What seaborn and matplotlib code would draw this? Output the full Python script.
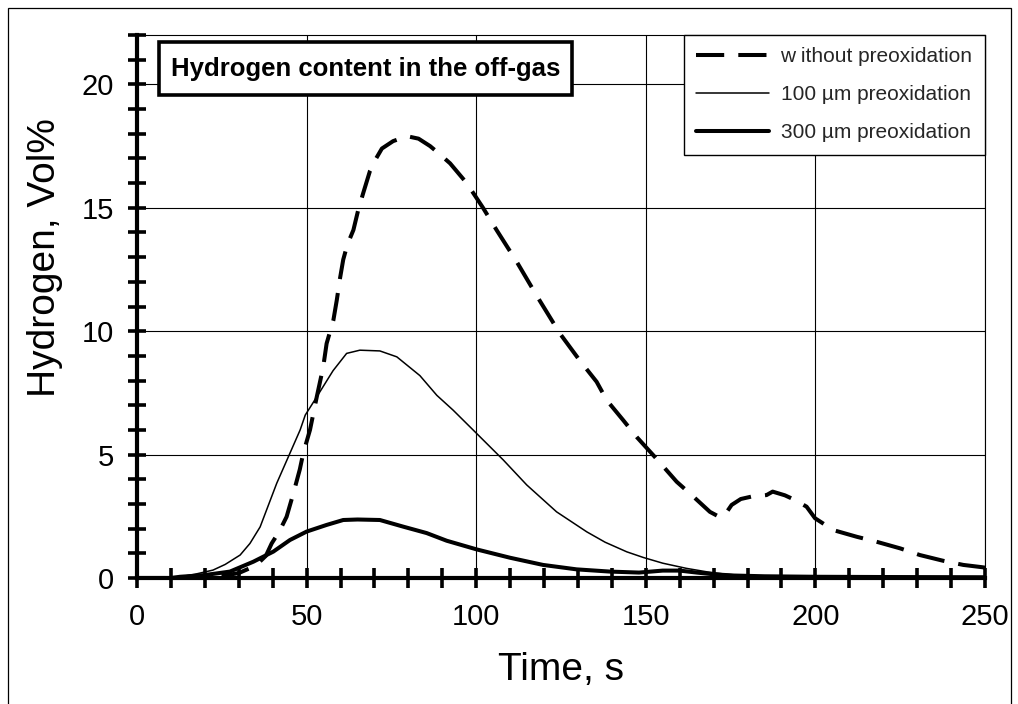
import matplotlib
matplotlib.use("Agg")
import matplotlib.pyplot as plt
import matplotlib.patches as mpatches
from matplotlib.ticker import MultipleLocator
import numpy as np
import pandas as pd
import seaborn as sns

# ---- data ----
t_without = [0, 10, 20, 25, 30, 35, 38, 39.7, 42, 44.1, 46.1, 48, 49, 51, 53, 54.9, 55.9,
             57.9, 58.9, 59.8, 60.8, 62, 63.8, 65.2, 66.7, 68.7, 70.5, 72.2, 75.5, 79.6, 83,
             86.4, 89, 92.3, 97.2, 102, 106, 112, 118, 124.7, 130.6, 135.5, 138.5, 143.3,
             147.4, 152.7, 159.1, 164, 168.9, 171.9, 173.5, 175.3, 178, 181.2, 185.6, 187.4,
             191, 194, 197.4, 199.9, 205.3, 212.2, 218, 225, 230.8, 237.6, 243.6, 249, 250]
v_without = [0, 0, 0.03, 0.08, 0.2, 0.5, 0.9, 1.4, 1.9, 2.48, 3.43, 4.4, 5.05, 6.0, 7.34, 8.55,
             9.5, 10.45, 11.26, 12.1, 12.9, 13.5, 14.1, 14.9, 15.6, 16.5, 17.0, 17.4, 17.7,
             17.9, 17.8, 17.5, 17.2, 16.8, 16.0, 15.0, 14.1, 12.8, 11.4, 9.9, 8.8, 7.95, 7.2,
             6.4, 5.7, 4.9, 3.9, 3.3, 2.68, 2.46, 2.6, 2.96, 3.2, 3.3, 3.36, 3.5, 3.35, 3.16,
             2.89, 2.42, 1.94, 1.67, 1.47, 1.2, 0.93, 0.7, 0.53, 0.44, 0.42]

t_100 = [0, 10, 12.7, 17, 22.4, 26, 30.4, 33.3, 36.3, 41.2, 45.1, 48.1, 49.6, 53, 57.8, 61.8,
         65.7, 71.6, 76.6, 83.4, 88.4, 93.2, 100.1, 108, 114.9, 123.7, 132.6, 138, 144.4,
         149.3, 155, 162, 168, 173.8, 180, 185.6, 195, 210, 230, 250]
v_100 = [0, 0, 0.05, 0.15, 0.32, 0.55, 0.93, 1.4, 2.07, 3.84, 5.06, 6.0, 6.6, 7.34, 8.4, 9.1,
         9.23, 9.2, 8.96, 8.2, 7.4, 6.8, 5.86, 4.78, 3.77, 2.68, 1.87, 1.45, 1.06, 0.83, 0.6,
         0.39, 0.25, 0.15, 0.09, 0.05, 0.03, 0.02, 0.01, 0.0]

t_300 = [0, 10, 12.7, 20, 27.4, 34.3, 40.2, 45.1, 50, 55.9, 60.8, 65, 71.6, 78.5, 85.4, 91.3,
         100.1, 110, 119.7, 129.6, 139.4, 148, 155, 160, 165, 170, 176, 185, 200, 220, 250]
v_300 = [0, 0, 0.05, 0.12, 0.26, 0.66, 1.07, 1.54, 1.88, 2.15, 2.35, 2.37, 2.35, 2.08, 1.82,
         1.51, 1.16, 0.82, 0.53, 0.35, 0.26, 0.22, 0.3, 0.3, 0.22, 0.15, 0.1, 0.07, 0.05,
         0.04, 0.03]

labels = ["w ithout preoxidation", "100 µm preoxidation", "300 µm preoxidation"]
x_ticks = [0, 50, 100, 150, 200, 250]
y_ticks = [0, 5, 10, 15, 20]

sns.set_theme(style="white")
plt.rcParams["font.family"] = ["Liberation Sans", "DejaVu Sans"]

W, H = 1018, 704
fig = plt.figure(figsize=(W / 100, H / 100), dpi=100)
fig.patch.set_facecolor("white")
ax = fig.add_axes([137 / W, 1 - 578 / H, (985 - 137) / W, (578 - 35) / H])

df_w = pd.DataFrame({"t": t_without, "v": v_without})
df_1 = pd.DataFrame({"t": t_100, "v": v_100})
df_3 = pd.DataFrame({"t": t_300, "v": v_300})

sns.lineplot(data=df_w, x="t", y="v", ax=ax, color="black", lw=2.9,
             linestyle=(0, (7, 3.5)), label=labels[0], zorder=4, estimator=None, sort=False)
sns.lineplot(data=df_1, x="t", y="v", ax=ax, color="black", lw=1.1,
             label=labels[1], zorder=4, estimator=None, sort=False)
sns.lineplot(data=df_3, x="t", y="v", ax=ax, color="black", lw=2.9,
             label=labels[2], zorder=4, estimator=None, sort=False)

ax.set_xlim(0, 250)
ax.set_ylim(0, 22)
ax.set_xticks(x_ticks)
ax.set_yticks(y_ticks)
ax.xaxis.set_minor_locator(MultipleLocator(10))
ax.yaxis.set_minor_locator(MultipleLocator(1))
ax.grid(True, which="major", color="black", lw=0.8)
ax.set_axisbelow(True)

for s in ["top", "right"]:
    ax.spines[s].set_linewidth(0.8)
    ax.spines[s].set_color("black")
for s in ["left", "bottom"]:
    ax.spines[s].set_linewidth(3)
    ax.spines[s].set_color("black")
    ax.spines[s].set_zorder(5)

ax.tick_params(axis="both", which="both", bottom=True, left=True, top=False, right=False,
               direction="inout", color="black", width=2.6, labelsize=21,
               labelcolor="black")
ax.tick_params(axis="x", which="both", length=14)
ax.tick_params(axis="y", which="both", length=13)
ax.tick_params(axis="x", which="major", pad=11)
ax.tick_params(axis="y", which="major", pad=10)

ax.set_xlabel("Time, s", fontsize=28, color="black")
ax.set_ylabel("Hydrogen, Vol%", fontsize=28, color="black")
ax.xaxis.label.set_va("center")
ax.yaxis.label.set_va("center")
ax.xaxis.set_label_coords(561 / W, 1 - 670 / H, transform=fig.transFigure)
ax.yaxis.set_label_coords(45 / W, 1 - 258 / H, transform=fig.transFigure)

leg = ax.legend(loc="upper right", fontsize=15, frameon=True, fancybox=False,
                edgecolor="black", framealpha=1, borderaxespad=0.0, handlelength=3.5,
                labelspacing=0.9, handletextpad=0.55, borderpad=0.6)
leg.get_frame().set_linewidth(1.0)
leg.set_zorder(10)

# title box
fig.add_artist(mpatches.Rectangle((159 / W, 1 - 95 / H), (572 - 159) / W, (95 - 42) / H,
                                  transform=fig.transFigure, facecolor="white",
                                  edgecolor="black", lw=2.6, zorder=20))
fig.text((159 + 572) / 2 / W, 1 - 69 / H, "Hydrogen content in the off-gas",
         ha="center", va="center", fontsize=18.5, fontweight="bold", color="black", zorder=21)

# outer frame
fig.add_artist(mpatches.Rectangle((8 / W, -0.01), (1011 - 8) / W, 1 - 8 / H + 0.01,
                                  transform=fig.transFigure, fill=False,
                                  edgecolor="black", lw=0.9, zorder=0))

fig.savefig("out.png", dpi=100, facecolor="white")
